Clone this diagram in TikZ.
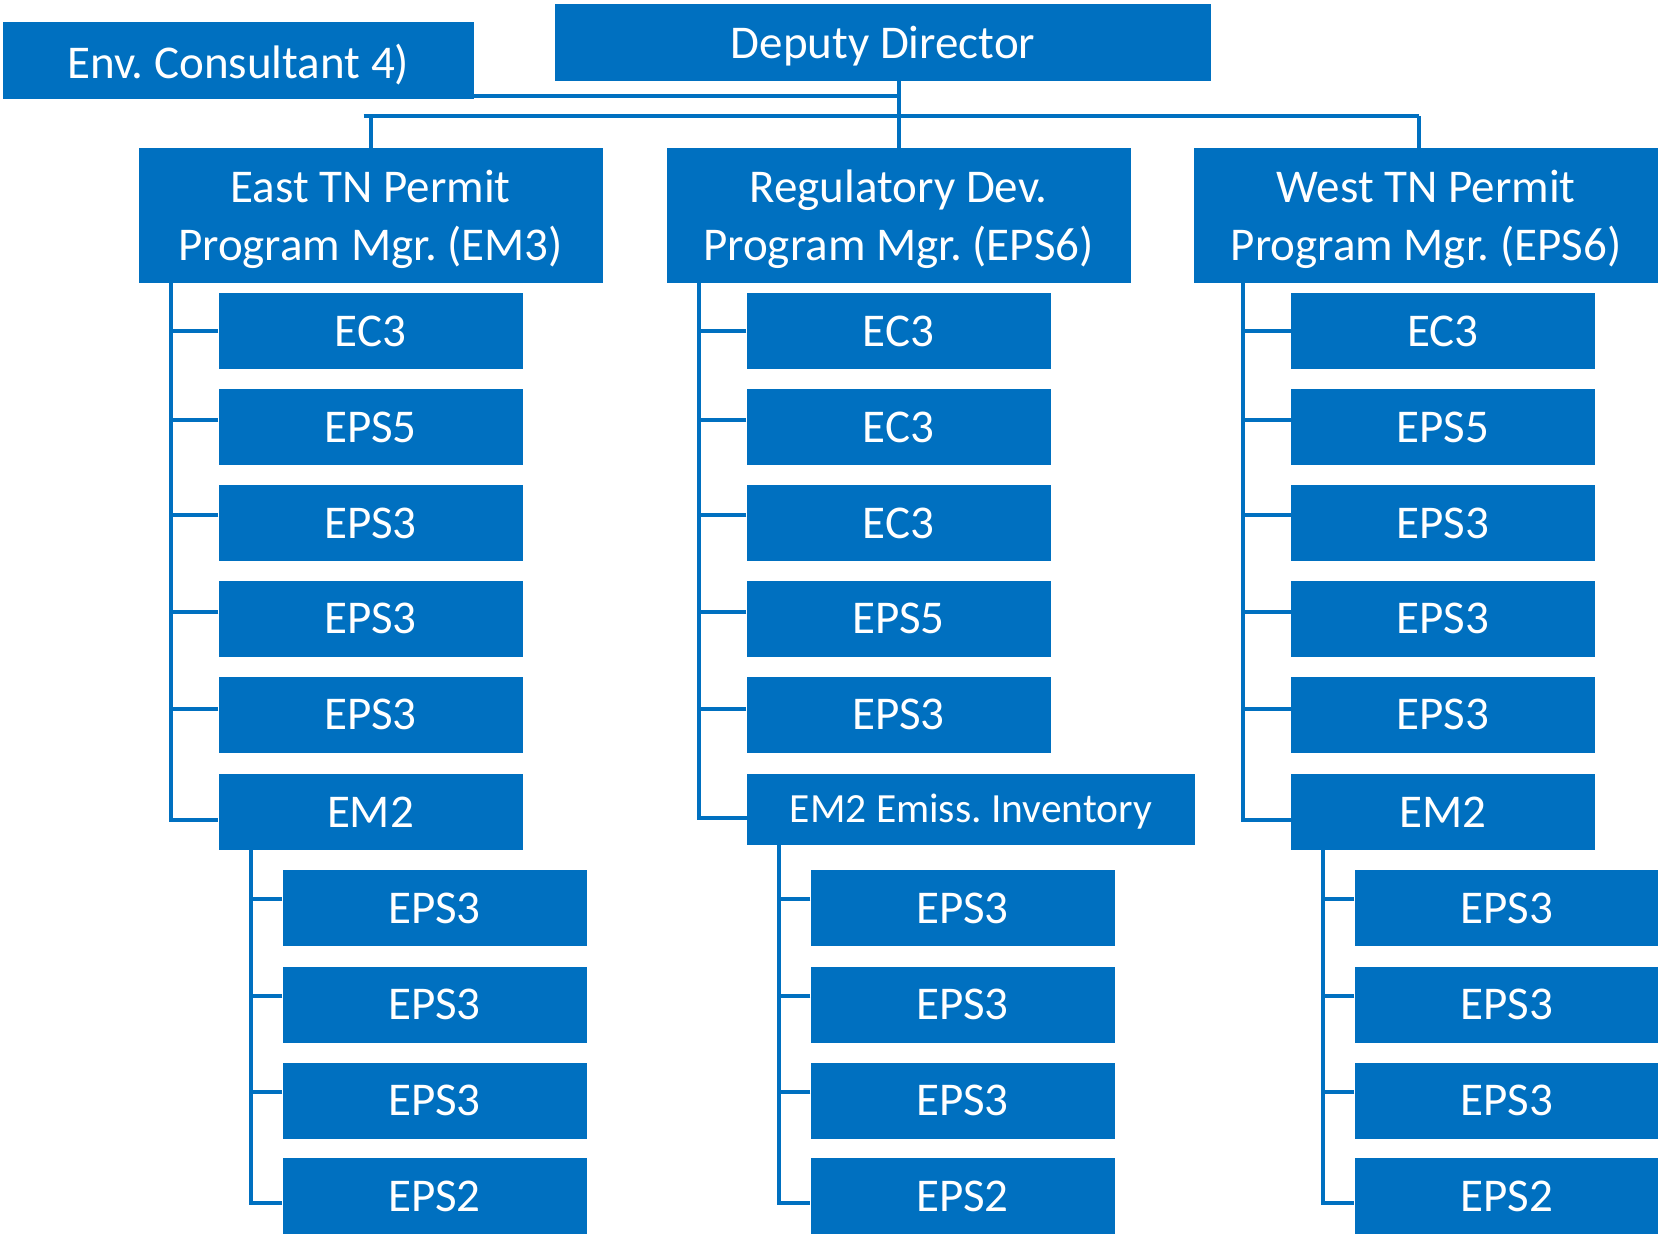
\documentclass[tikz,border=0pt]{standalone}
\usepackage{fontspec}
\setmainfont{Carlito}
\frenchspacing
\definecolor{boxblue}{RGB}{0,112,192}
\newcommand{\lowerby}[1]{\raisebox{0pt}[\dimexpr\height+8pt\relax][\depth]{#1}}
\begin{document}
\begin{tikzpicture}[x=1pt,y=-1pt,
  box/.style={rectangle,fill=boxblue,draw=none,inner sep=0pt,text=white,
    align=center,font=\fontsize{47}{58}\selectfont},
  l2/.style={box,minimum width=464pt,minimum height=135pt},
  kid/.style={box,minimum width=304pt,minimum height=76pt},
  conn/.style={draw=boxblue,line width=4pt}]
\useasboundingbox (0,0) rectangle (1658,1235);
% top
\node[box,minimum width=471pt,minimum height=77pt] (env) at (238.5,60.5) {\lowerby{Env. Consultant 4)}};
\node[box,minimum width=656pt,minimum height=77pt] (dd) at (883,42.5) {\lowerby{Deputy Director}};
\node[l2] (east) at (370.5,215.5) {\lowerby{\begin{tabular}{@{}c@{}}East TN Permit\\Program Mgr. (EM3)\end{tabular}}};
\node[l2] (reg) at (898.5,215.5) {\lowerby{\begin{tabular}{@{}c@{}}Regulatory Dev.\\Program Mgr. (EPS6)\end{tabular}}};
\node[l2] (west) at (1426,215.5) {\lowerby{\begin{tabular}{@{}c@{}}West TN Permit\\Program Mgr. (EPS6)\end{tabular}}};
\coordinate (bar) at (0,116);
\coordinate (wdrop) at (1419,0);
\draw[conn] (dd.south -| reg.north) -- (reg.north);
\draw[conn] ([yshift=3pt]env.south east) -- ([yshift=3pt]env.south east -| reg.north);
\draw[conn] ([xshift=-7pt]east.north |- bar) -- (wdrop |- bar);
\draw[conn] (east.north |- bar) -- (east.north);
\draw[conn] (wdrop |- bar) -- (wdrop |- west.north);
% children rows
\foreach \pre/\cx/\vx/\gx/\gv/\a/\b/\c/\d/\e in
  {e/370.5/171/434.5/251/EC3/EPS5/EPS3/EPS3/EPS3,
   m/898.5/699/962.5/779/EC3/EC3/EC3/EPS5/EPS3,
   w/1443/1243/1506.5/1323/EC3/EPS5/EPS3/EPS3/EPS3}{
  \coordinate (\pre V) at (\vx,0);
  \coordinate (\pre G) at (\gv,0);
  \node[kid] (\pre1) at (\cx,331) {\a};
  \node[kid] (\pre2) at (\cx,427) {\b};
  \node[kid] (\pre3) at (\cx,523) {\c};
  \node[kid] (\pre4) at (\cx,618.5) {\d};
  \node[kid] (\pre5) at (\cx,714.8) {\e};
  \node[kid] (\pre7) at (\gx,908) {EPS3};
  \node[kid] (\pre8) at (\gx,1004.5) {EPS3};
  \node[kid] (\pre9) at (\gx,1100.7) {EPS3};
  \node[kid] (\pre10) at (\gx,1196) {EPS2};
}
\node[kid] (e6) at (370.5,812) {EM2};
\node[box,minimum width=448pt,minimum height=71pt,font=\fontsize{41.5}{50}\selectfont] (m6) at (971,809.5) {\raisebox{0pt}[\dimexpr\height+5pt\relax][\depth]{EM2 Emiss. Inventory}};
\node[kid] (w6) at (1443,812) {EM2};
% connectors
\foreach \pre/\top in {e/east,m/reg,w/west}{
  \draw[conn] (\top.south -| \pre V) |- ([yshift=-8pt]\pre6.west);
  \draw[conn] (\pre1.west) -- (\pre1.west -| \pre V);
  \draw[conn] ([yshift=7pt]\pre2.west) -- ([yshift=7pt]\pre2.west -| \pre V);
  \draw[conn] ([yshift=8pt]\pre3.west) -- ([yshift=8pt]\pre3.west -| \pre V);
  \draw[conn] ([yshift=7pt]\pre4.west) -- ([yshift=7pt]\pre4.west -| \pre V);
  \draw[conn] ([yshift=6pt]\pre5.west) -- ([yshift=6pt]\pre5.west -| \pre V);
  \draw[conn] (\pre6.south -| \pre G) |- ([yshift=-7pt]\pre10.west);
  \draw[conn] ([yshift=9pt]\pre7.west) -- ([yshift=9pt]\pre7.west -| \pre G);
  \draw[conn] ([yshift=9pt]\pre8.west) -- ([yshift=9pt]\pre8.west -| \pre G);
  \draw[conn] ([yshift=9pt]\pre9.west) -- ([yshift=9pt]\pre9.west -| \pre G);
}
\end{tikzpicture}
\end{document}
